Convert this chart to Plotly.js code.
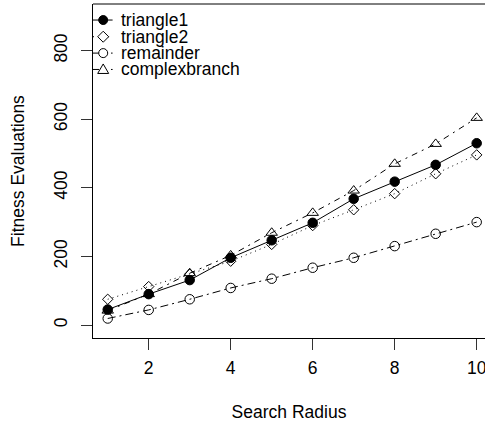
<!DOCTYPE html>
<html>
<head>
<meta charset="utf-8">
<script src="https://cdn.plot.ly/plotly-3.0.1.min.js"></script>
<style>
html,body{margin:0;padding:0;background:#fff;}
#chart{width:485px;height:425px;}
</style>
</head>
<body>
<div id="chart"></div>
<script>
var radius = [1, 2, 3, 4, 5, 6, 7, 8, 9, 10];
var triangle1 = [45, 90, 131, 196, 247, 298, 368, 418, 467, 530];
var triangle2 = [75, 112, 148, 186, 235, 290, 336, 383, 441, 496];
var remainder = [19, 44, 75, 108, 135, 167, 196, 230, 266, 300];
var complexbranch = [42, 90, 151, 203, 269, 327, 392, 470, 528, 604];
var seriesNames = ["triangle1", "triangle2", "remainder", "complexbranch"];
var xTicks = [2, 4, 6, 8, 10];
var yTicks = [0, 200, 400, 600, 800];

var FONT = "Liberation Sans, Arial, Helvetica, sans-serif";
var styles = [
  {dash: "solid", symbol: "circle", size: 9.5},
  {dash: "1px,4px", symbol: "diamond-open", size: 8},
  {dash: "8px,4px,2px,4px", symbol: "circle-open", size: 9.5},
  {dash: "6px,5px,2px,5px", symbol: "triangle-up-open", size: 10}
];
var values = [triangle1, triangle2, remainder, complexbranch];

var traces = values.map(function (v, i) {
  return {
    x: radius, y: v, type: "scatter", mode: "lines+markers", name: seriesNames[i],
    cliponaxis: false,
    line: {color: "#000", width: 1, dash: styles[i].dash},
    marker: {symbol: styles[i].symbol, size: styles[i].size, color: "#000",
             line: {color: "#000", width: 1}},
    showlegend: false
  };
});

// custom R-style legend (layout shapes + annotations)
var shapes = [
  {type: "line", xref: "paper", yref: "paper", x0: 0, x1: 1, y0: 1, y1: 1,
   line: {color: "#000", width: 1}}
];
var annotations = [];
var rowY = [0.952, 0.902, 0.853, 0.804];
var keyX0 = 0, keyX1 = 0.05, symX = 0.026, textX = 0.066;
var symbolPaths = {
  "diamond-open": "M0,5.5 L5.5,0 L0,-5.5 L-5.5,0 Z",
  "triangle-up-open": "M0,5.5 L5.5,-4 L-5.5,-4 Z"
};
seriesNames.forEach(function (nm, i) {
  var yy = rowY[i];
  shapes.push({type: "line", xref: "paper", yref: "paper", x0: keyX0, x1: keyX1, y0: yy, y1: yy,
               line: {color: "#000", width: 1, dash: styles[i].dash}});
  var sym = styles[i].symbol;
  if (sym === "circle" || sym === "circle-open") {
    shapes.push({type: "circle", xref: "paper", yref: "paper", xsizemode: "pixel", ysizemode: "pixel",
                 xanchor: symX, yanchor: yy, x0: -4.5, x1: 4.5, y0: -4.5, y1: 4.5,
                 fillcolor: sym === "circle" ? "#000" : "#fff",
                 line: {color: "#000", width: 1}});
  } else {
    shapes.push({type: "path", xref: "paper", yref: "paper", xsizemode: "pixel", ysizemode: "pixel",
                 xanchor: symX, yanchor: yy, path: symbolPaths[sym], fillcolor: "#fff",
                 line: {color: "#000", width: 1}});
  }
  annotations.push({xref: "paper", yref: "paper", x: textX, y: yy, xanchor: "left", yanchor: "middle",
                    text: nm, showarrow: false, font: {family: FONT, size: 17.5, color: "#000"}});
});

var layout = {
  width: 485, height: 425,
  margin: {l: 93, r: 0, t: 4, b: 87, pad: 0},
  paper_bgcolor: "#fff", plot_bgcolor: "#fff",
  font: {family: FONT, size: 17.5, color: "#000"},
  showlegend: false,
  xaxis: {
    range: [0.641, 10.203], tickmode: "array", tickvals: xTicks, ticktext: xTicks.map(String),
    ticks: "outside", ticklen: 11, tickwidth: 1, tickcolor: "#333",
    ticklabeloverflow: "allow", ticklabelstandoff: 3,
    showline: true, linecolor: "#000", linewidth: 1, showgrid: false, zeroline: false,
    tickfont: {family: FONT, size: 17.5, color: "#000"},
    title: {text: "Search Radius", font: {family: FONT, size: 17.5, color: "#000"}, standoff: 28}
  },
  yaxis: {
    range: [-37.9, 936], tickmode: "array", tickvals: yTicks, ticktext: yTicks.map(String),
    ticks: "outside", ticklen: 11, tickwidth: 1, tickcolor: "#333", tickangle: -90,
    ticklabelstandoff: 7,
    showline: true, linecolor: "#000", linewidth: 1, showgrid: false, zeroline: false,
    tickfont: {family: FONT, size: 17.5, color: "#000"},
    title: {text: "Fitness Evaluations", font: {family: FONT, size: 17.5, color: "#000"}, standoff: 21}
  },
  shapes: shapes,
  annotations: annotations
};

Plotly.newPlot("chart", traces, layout, {displayModeBar: false, staticPlot: true});
</script>
</body>
</html>
